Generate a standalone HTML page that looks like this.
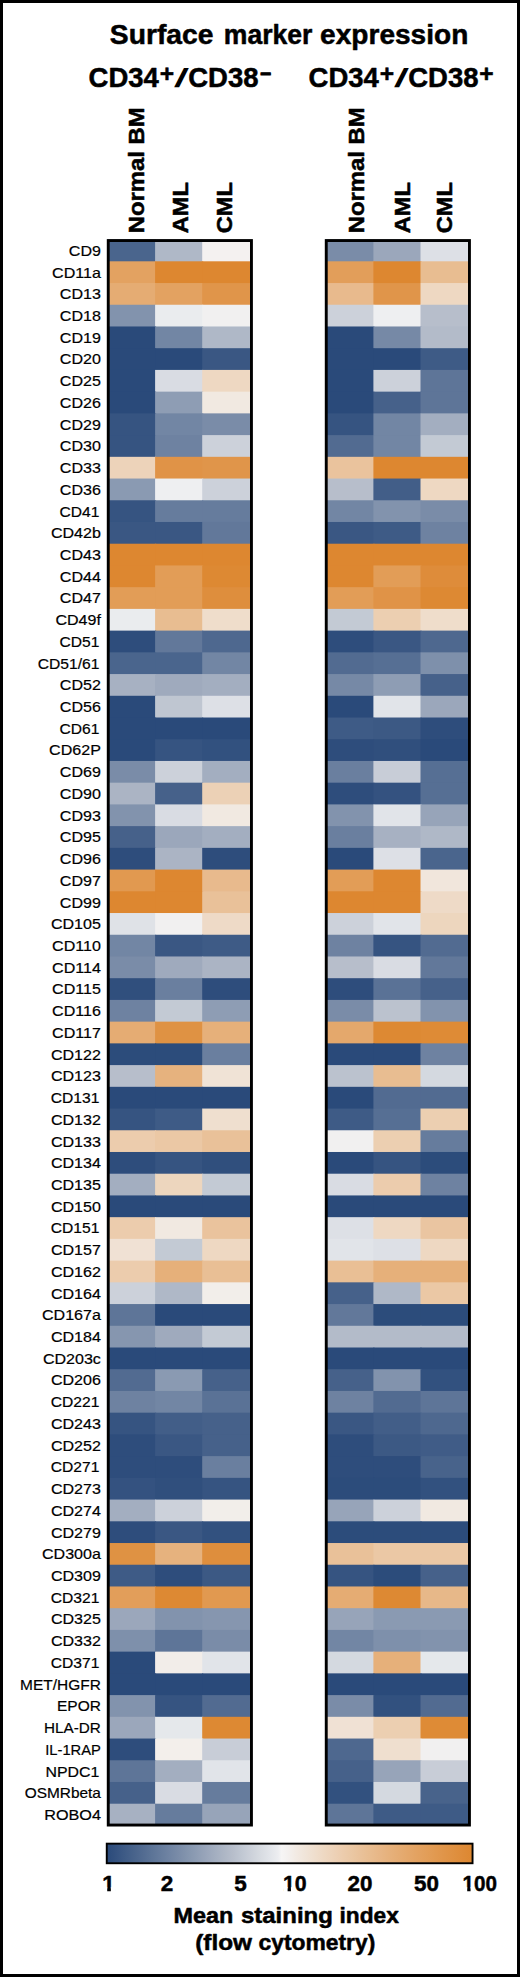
<!DOCTYPE html>
<html><head><meta charset="utf-8"><title>Surface marker expression</title>
<style>html,body{margin:0;padding:0;background:#fff}svg{display:block}text{stroke:#000;stroke-width:0.2px;font-family:"Liberation Sans",Arial,Helvetica,sans-serif;fill:#000}.b{font-weight:bold;stroke:#000;stroke-width:0.5px;stroke-linejoin:round}</style></head><body>
<svg width="520" height="1977" viewBox="0 0 520 1977">
<defs><linearGradient id="cb" x1="0" x2="1" y1="0" y2="0"><stop offset="0.0000" stop-color="#2a4a7a"/><stop offset="0.0246" stop-color="#345280"/><stop offset="0.0493" stop-color="#3e5b86"/><stop offset="0.0739" stop-color="#48638b"/><stop offset="0.0986" stop-color="#526b91"/><stop offset="0.1232" stop-color="#5c7497"/><stop offset="0.1478" stop-color="#667c9d"/><stop offset="0.1725" stop-color="#7084a3"/><stop offset="0.1971" stop-color="#7a8ca8"/><stop offset="0.2218" stop-color="#8495ae"/><stop offset="0.2464" stop-color="#8e9db4"/><stop offset="0.2710" stop-color="#99a5ba"/><stop offset="0.2957" stop-color="#a3aec0"/><stop offset="0.3203" stop-color="#adb6c5"/><stop offset="0.3449" stop-color="#b7becb"/><stop offset="0.3696" stop-color="#c1c8d3"/><stop offset="0.3942" stop-color="#ccd1da"/><stop offset="0.4189" stop-color="#d7dbe1"/><stop offset="0.4435" stop-color="#e1e4e9"/><stop offset="0.4681" stop-color="#ecedf0"/><stop offset="0.478" stop-color="#f6f5f5"/><stop offset="0.4932" stop-color="#f4f1f0"/><stop offset="0.5185" stop-color="#f2eae3"/><stop offset="0.5439" stop-color="#f0e4d8"/><stop offset="0.5692" stop-color="#efdecd"/><stop offset="0.5946" stop-color="#eed8c2"/><stop offset="0.6199" stop-color="#edd2b8"/><stop offset="0.6452" stop-color="#ecccad"/><stop offset="0.6706" stop-color="#eac7a3"/><stop offset="0.6959" stop-color="#e9c199"/><stop offset="0.7213" stop-color="#e8bc8f"/><stop offset="0.7466" stop-color="#e7b686"/><stop offset="0.7719" stop-color="#e6b17c"/><stop offset="0.7973" stop-color="#e5ac73"/><stop offset="0.8226" stop-color="#e4a76a"/><stop offset="0.8480" stop-color="#e3a261"/><stop offset="0.8733" stop-color="#e29e59"/><stop offset="0.8986" stop-color="#e19950"/><stop offset="0.9240" stop-color="#e09448"/><stop offset="0.9493" stop-color="#df9040"/><stop offset="0.9747" stop-color="#de8b38"/><stop offset="1.0000" stop-color="#dd8730"/></linearGradient></defs>
<rect x="0" y="0" width="520" height="1977" fill="#fff"/>
<rect x="1.5" y="1.5" width="517" height="1974" fill="none" stroke="#000" stroke-width="3"/>
<text class="b" x="109.8" y="43.8" font-size="27.7" textLength="103.7" lengthAdjust="spacingAndGlyphs">Surface</text>
<text class="b" x="223.8" y="43.8" font-size="27.7" textLength="88.5" lengthAdjust="spacingAndGlyphs">marker</text>
<text class="b" x="320.1" y="43.8" font-size="27.7" textLength="148.2" lengthAdjust="spacingAndGlyphs">expression</text>
<text class="b" x="88.6" y="86.5" font-size="27.5">CD34</text>
<text class="b" x="159.7" y="81.6" font-size="24.6">+</text>
<text class="b" font-size="27.5" style="stroke-width:1.6px;stroke-linejoin:miter" transform="translate(175.3,86.1) skewX(-16) scale(1.0,0.87)">/</text>
<text class="b" x="188.2" y="86.5" font-size="27.5">CD38</text>
<text class="b" x="260.1" y="79.7" font-size="19" style="stroke-width:1.0px">−</text>
<text class="b" x="308.6" y="86.5" font-size="27.5">CD34</text>
<text class="b" x="379.7" y="81.6" font-size="24.6">+</text>
<text class="b" font-size="27.5" style="stroke-width:1.6px;stroke-linejoin:miter" transform="translate(395.3,86.1) skewX(-16) scale(1.0,0.87)">/</text>
<text class="b" x="408.2" y="86.5" font-size="27.5">CD38</text>
<text class="b" x="479.2" y="82.4" font-size="24.6">+</text>
<text class="b" font-size="22.9" textLength="125.8" lengthAdjust="spacingAndGlyphs" transform="translate(143.6,233.3) rotate(-90)">Normal BM</text>
<text class="b" font-size="22.9" textLength="51.2" lengthAdjust="spacingAndGlyphs" transform="translate(187.5,233.3) rotate(-90)">AML</text>
<text class="b" font-size="22.9" textLength="51.2" lengthAdjust="spacingAndGlyphs" transform="translate(232.1,233.3) rotate(-90)">CML</text>
<text class="b" font-size="22.9" textLength="125.8" lengthAdjust="spacingAndGlyphs" transform="translate(363.6,233.3) rotate(-90)">Normal BM</text>
<text class="b" font-size="22.9" textLength="51.2" lengthAdjust="spacingAndGlyphs" transform="translate(410.3,233.3) rotate(-90)">AML</text>
<text class="b" font-size="22.9" textLength="51.2" lengthAdjust="spacingAndGlyphs" transform="translate(452.1,233.3) rotate(-90)">CML</text>
<rect x="107.90" y="239.58" width="48.20" height="22.72" fill="#4a658d"/>
<rect x="155.10" y="239.58" width="48.10" height="22.72" fill="#afb8c7"/>
<rect x="202.20" y="239.58" width="48.80" height="22.72" fill="#f4f1f0"/>
<rect x="107.90" y="261.30" width="48.20" height="22.72" fill="#e3a261"/>
<rect x="155.10" y="261.30" width="48.10" height="22.72" fill="#dd8730"/>
<rect x="202.20" y="261.30" width="48.80" height="22.72" fill="#dd8730"/>
<rect x="107.90" y="283.03" width="48.20" height="22.72" fill="#e5ac73"/>
<rect x="155.10" y="283.03" width="48.10" height="22.72" fill="#e3a261"/>
<rect x="202.20" y="283.03" width="48.80" height="22.72" fill="#e0954a"/>
<rect x="107.90" y="304.75" width="48.20" height="22.72" fill="#8293ad"/>
<rect x="155.10" y="304.75" width="48.10" height="22.72" fill="#eaecee"/>
<rect x="202.20" y="304.75" width="48.80" height="22.72" fill="#f1f0f0"/>
<rect x="107.90" y="326.48" width="48.20" height="22.72" fill="#2a4a7a"/>
<rect x="155.10" y="326.48" width="48.10" height="22.72" fill="#7286a4"/>
<rect x="202.20" y="326.48" width="48.80" height="22.72" fill="#afb8c7"/>
<rect x="107.90" y="348.20" width="48.20" height="22.72" fill="#2a4a7a"/>
<rect x="155.10" y="348.20" width="48.10" height="22.72" fill="#2a4a7a"/>
<rect x="202.20" y="348.20" width="48.80" height="22.72" fill="#3a5783"/>
<rect x="107.90" y="369.92" width="48.20" height="22.72" fill="#2a4a7a"/>
<rect x="155.10" y="369.92" width="48.10" height="22.72" fill="#d9dce3"/>
<rect x="202.20" y="369.92" width="48.80" height="22.72" fill="#eed8c2"/>
<rect x="107.90" y="391.65" width="48.20" height="22.72" fill="#2a4a7a"/>
<rect x="155.10" y="391.65" width="48.10" height="22.72" fill="#8e9db4"/>
<rect x="202.20" y="391.65" width="48.80" height="22.72" fill="#f1e9e1"/>
<rect x="107.90" y="413.37" width="48.20" height="22.72" fill="#365481"/>
<rect x="155.10" y="413.37" width="48.10" height="22.72" fill="#7286a4"/>
<rect x="202.20" y="413.37" width="48.80" height="22.72" fill="#7a8ca8"/>
<rect x="107.90" y="435.10" width="48.20" height="22.72" fill="#365481"/>
<rect x="155.10" y="435.10" width="48.10" height="22.72" fill="#6e82a1"/>
<rect x="202.20" y="435.10" width="48.80" height="22.72" fill="#ccd1da"/>
<rect x="107.90" y="456.82" width="48.20" height="22.72" fill="#edd3ba"/>
<rect x="155.10" y="456.82" width="48.10" height="22.72" fill="#e09347"/>
<rect x="202.20" y="456.82" width="48.80" height="22.72" fill="#e0954a"/>
<rect x="107.90" y="478.54" width="48.20" height="22.72" fill="#8a9ab2"/>
<rect x="155.10" y="478.54" width="48.10" height="22.72" fill="#eeeff1"/>
<rect x="202.20" y="478.54" width="48.80" height="22.72" fill="#ccd1da"/>
<rect x="107.90" y="500.27" width="48.20" height="22.72" fill="#365481"/>
<rect x="155.10" y="500.27" width="48.10" height="22.72" fill="#667c9d"/>
<rect x="202.20" y="500.27" width="48.80" height="22.72" fill="#667c9d"/>
<rect x="107.90" y="521.99" width="48.20" height="22.72" fill="#3a5783"/>
<rect x="155.10" y="521.99" width="48.10" height="22.72" fill="#3a5783"/>
<rect x="202.20" y="521.99" width="48.80" height="22.72" fill="#62789a"/>
<rect x="107.90" y="543.72" width="48.20" height="22.72" fill="#dd8730"/>
<rect x="155.10" y="543.72" width="48.10" height="22.72" fill="#dd8730"/>
<rect x="202.20" y="543.72" width="48.80" height="22.72" fill="#dd8730"/>
<rect x="107.90" y="565.44" width="48.20" height="22.72" fill="#dd8730"/>
<rect x="155.10" y="565.44" width="48.10" height="22.72" fill="#e29d57"/>
<rect x="202.20" y="565.44" width="48.80" height="22.72" fill="#dd8933"/>
<rect x="107.90" y="587.16" width="48.20" height="22.72" fill="#e29d57"/>
<rect x="155.10" y="587.16" width="48.10" height="22.72" fill="#e29d57"/>
<rect x="202.20" y="587.16" width="48.80" height="22.72" fill="#de8e3d"/>
<rect x="107.90" y="608.89" width="48.20" height="22.72" fill="#eaecee"/>
<rect x="155.10" y="608.89" width="48.10" height="22.72" fill="#e8bd91"/>
<rect x="202.20" y="608.89" width="48.80" height="22.72" fill="#efddcb"/>
<rect x="107.90" y="630.61" width="48.20" height="22.72" fill="#2e4d7c"/>
<rect x="155.10" y="630.61" width="48.10" height="22.72" fill="#62789a"/>
<rect x="202.20" y="630.61" width="48.80" height="22.72" fill="#4e688f"/>
<rect x="107.90" y="652.34" width="48.20" height="22.72" fill="#4a658d"/>
<rect x="155.10" y="652.34" width="48.10" height="22.72" fill="#4a658d"/>
<rect x="202.20" y="652.34" width="48.80" height="22.72" fill="#7286a4"/>
<rect x="107.90" y="674.06" width="48.20" height="22.72" fill="#a7b1c2"/>
<rect x="155.10" y="674.06" width="48.10" height="22.72" fill="#9faabd"/>
<rect x="202.20" y="674.06" width="48.80" height="22.72" fill="#a3aec0"/>
<rect x="107.90" y="695.78" width="48.20" height="22.72" fill="#2a4a7a"/>
<rect x="155.10" y="695.78" width="48.10" height="22.72" fill="#bfc6d1"/>
<rect x="202.20" y="695.78" width="48.80" height="22.72" fill="#dde0e6"/>
<rect x="107.90" y="717.51" width="48.20" height="22.72" fill="#2a4a7a"/>
<rect x="155.10" y="717.51" width="48.10" height="22.72" fill="#2a4a7a"/>
<rect x="202.20" y="717.51" width="48.80" height="22.72" fill="#2a4a7a"/>
<rect x="107.90" y="739.23" width="48.20" height="22.72" fill="#2a4a7a"/>
<rect x="155.10" y="739.23" width="48.10" height="22.72" fill="#365481"/>
<rect x="202.20" y="739.23" width="48.80" height="22.72" fill="#32517f"/>
<rect x="107.90" y="760.96" width="48.20" height="22.72" fill="#7a8ca8"/>
<rect x="155.10" y="760.96" width="48.10" height="22.72" fill="#ccd1da"/>
<rect x="202.20" y="760.96" width="48.80" height="22.72" fill="#a3aec0"/>
<rect x="107.90" y="782.68" width="48.20" height="22.72" fill="#abb4c4"/>
<rect x="155.10" y="782.68" width="48.10" height="22.72" fill="#46618a"/>
<rect x="202.20" y="782.68" width="48.80" height="22.72" fill="#ecd1b6"/>
<rect x="107.90" y="804.40" width="48.20" height="22.72" fill="#8293ad"/>
<rect x="155.10" y="804.40" width="48.10" height="22.72" fill="#d9dce3"/>
<rect x="202.20" y="804.40" width="48.80" height="22.72" fill="#f1e9e1"/>
<rect x="107.90" y="826.13" width="48.20" height="22.72" fill="#46618a"/>
<rect x="155.10" y="826.13" width="48.10" height="22.72" fill="#9ba7bb"/>
<rect x="202.20" y="826.13" width="48.80" height="22.72" fill="#a3aec0"/>
<rect x="107.90" y="847.85" width="48.20" height="22.72" fill="#2e4d7c"/>
<rect x="155.10" y="847.85" width="48.10" height="22.72" fill="#abb4c4"/>
<rect x="202.20" y="847.85" width="48.80" height="22.72" fill="#2e4d7c"/>
<rect x="107.90" y="869.58" width="48.20" height="22.72" fill="#e19950"/>
<rect x="155.10" y="869.58" width="48.10" height="22.72" fill="#dd8730"/>
<rect x="202.20" y="869.58" width="48.80" height="22.72" fill="#e8ba8d"/>
<rect x="107.90" y="891.30" width="48.20" height="22.72" fill="#dd8730"/>
<rect x="155.10" y="891.30" width="48.10" height="22.72" fill="#dd8730"/>
<rect x="202.20" y="891.30" width="48.80" height="22.72" fill="#e9c199"/>
<rect x="107.90" y="913.02" width="48.20" height="22.72" fill="#dfe2e7"/>
<rect x="155.10" y="913.02" width="48.10" height="22.72" fill="#f1f0f0"/>
<rect x="202.20" y="913.02" width="48.80" height="22.72" fill="#eedac7"/>
<rect x="107.90" y="934.75" width="48.20" height="22.72" fill="#7286a4"/>
<rect x="155.10" y="934.75" width="48.10" height="22.72" fill="#3a5783"/>
<rect x="202.20" y="934.75" width="48.80" height="22.72" fill="#3e5b86"/>
<rect x="107.90" y="956.47" width="48.20" height="22.72" fill="#7a8ca8"/>
<rect x="155.10" y="956.47" width="48.10" height="22.72" fill="#9faabd"/>
<rect x="202.20" y="956.47" width="48.80" height="22.72" fill="#abb4c4"/>
<rect x="107.90" y="978.20" width="48.20" height="22.72" fill="#304f7d"/>
<rect x="155.10" y="978.20" width="48.10" height="22.72" fill="#6a7f9f"/>
<rect x="202.20" y="978.20" width="48.80" height="22.72" fill="#2e4d7c"/>
<rect x="107.90" y="999.92" width="48.20" height="22.72" fill="#6e82a1"/>
<rect x="155.10" y="999.92" width="48.10" height="22.72" fill="#c3cad4"/>
<rect x="202.20" y="999.92" width="48.80" height="22.72" fill="#8e9db4"/>
<rect x="107.90" y="1021.64" width="48.20" height="22.72" fill="#e5ac73"/>
<rect x="155.10" y="1021.64" width="48.10" height="22.72" fill="#df9243"/>
<rect x="202.20" y="1021.64" width="48.80" height="22.72" fill="#e6b07a"/>
<rect x="107.90" y="1043.37" width="48.20" height="22.72" fill="#2c4c7b"/>
<rect x="155.10" y="1043.37" width="48.10" height="22.72" fill="#2c4c7b"/>
<rect x="202.20" y="1043.37" width="48.80" height="22.72" fill="#6a7f9f"/>
<rect x="107.90" y="1065.09" width="48.20" height="22.72" fill="#b7becb"/>
<rect x="155.10" y="1065.09" width="48.10" height="22.72" fill="#e6b27e"/>
<rect x="202.20" y="1065.09" width="48.80" height="22.72" fill="#f0e3d6"/>
<rect x="107.90" y="1086.82" width="48.20" height="22.72" fill="#2a4a7a"/>
<rect x="155.10" y="1086.82" width="48.10" height="22.72" fill="#2a4a7a"/>
<rect x="202.20" y="1086.82" width="48.80" height="22.72" fill="#2a4a7a"/>
<rect x="107.90" y="1108.54" width="48.20" height="22.72" fill="#365481"/>
<rect x="155.10" y="1108.54" width="48.10" height="22.72" fill="#3e5b86"/>
<rect x="202.20" y="1108.54" width="48.80" height="22.72" fill="#efdfcf"/>
<rect x="107.90" y="1130.26" width="48.20" height="22.72" fill="#ecccad"/>
<rect x="155.10" y="1130.26" width="48.10" height="22.72" fill="#ebc8a5"/>
<rect x="202.20" y="1130.26" width="48.80" height="22.72" fill="#e9c199"/>
<rect x="107.90" y="1151.99" width="48.20" height="22.72" fill="#2e4d7c"/>
<rect x="155.10" y="1151.99" width="48.10" height="22.72" fill="#365481"/>
<rect x="202.20" y="1151.99" width="48.80" height="22.72" fill="#304f7d"/>
<rect x="107.90" y="1173.71" width="48.20" height="22.72" fill="#a3aec0"/>
<rect x="155.10" y="1173.71" width="48.10" height="22.72" fill="#edd6be"/>
<rect x="202.20" y="1173.71" width="48.80" height="22.72" fill="#c3cad4"/>
<rect x="107.90" y="1195.44" width="48.20" height="22.72" fill="#2a4a7a"/>
<rect x="155.10" y="1195.44" width="48.10" height="22.72" fill="#2a4a7a"/>
<rect x="202.20" y="1195.44" width="48.80" height="22.72" fill="#2a4a7a"/>
<rect x="107.90" y="1217.16" width="48.20" height="22.72" fill="#ecccad"/>
<rect x="155.10" y="1217.16" width="48.10" height="22.72" fill="#f1e9e1"/>
<rect x="202.20" y="1217.16" width="48.80" height="22.72" fill="#eac39d"/>
<rect x="107.90" y="1238.88" width="48.20" height="22.72" fill="#f0e1d4"/>
<rect x="155.10" y="1238.88" width="48.10" height="22.72" fill="#c3cad4"/>
<rect x="202.20" y="1238.88" width="48.80" height="22.72" fill="#eed8c2"/>
<rect x="107.90" y="1260.61" width="48.20" height="22.72" fill="#ecccad"/>
<rect x="155.10" y="1260.61" width="48.10" height="22.72" fill="#e6b07a"/>
<rect x="202.20" y="1260.61" width="48.80" height="22.72" fill="#e9bf95"/>
<rect x="107.90" y="1282.33" width="48.20" height="22.72" fill="#ccd1da"/>
<rect x="155.10" y="1282.33" width="48.10" height="22.72" fill="#afb8c7"/>
<rect x="202.20" y="1282.33" width="48.80" height="22.72" fill="#f2eeea"/>
<rect x="107.90" y="1304.06" width="48.20" height="22.72" fill="#5e7598"/>
<rect x="155.10" y="1304.06" width="48.10" height="22.72" fill="#2a4a7a"/>
<rect x="202.20" y="1304.06" width="48.80" height="22.72" fill="#2a4a7a"/>
<rect x="107.90" y="1325.78" width="48.20" height="22.72" fill="#8696af"/>
<rect x="155.10" y="1325.78" width="48.10" height="22.72" fill="#9faabd"/>
<rect x="202.20" y="1325.78" width="48.80" height="22.72" fill="#c3cad4"/>
<rect x="107.90" y="1347.50" width="48.20" height="22.72" fill="#2a4a7a"/>
<rect x="155.10" y="1347.50" width="48.10" height="22.72" fill="#2a4a7a"/>
<rect x="202.20" y="1347.50" width="48.80" height="22.72" fill="#2a4a7a"/>
<rect x="107.90" y="1369.23" width="48.20" height="22.72" fill="#526b91"/>
<rect x="155.10" y="1369.23" width="48.10" height="22.72" fill="#8a9ab2"/>
<rect x="202.20" y="1369.23" width="48.80" height="22.72" fill="#46618a"/>
<rect x="107.90" y="1390.95" width="48.20" height="22.72" fill="#6e82a1"/>
<rect x="155.10" y="1390.95" width="48.10" height="22.72" fill="#7286a4"/>
<rect x="202.20" y="1390.95" width="48.80" height="22.72" fill="#5a7296"/>
<rect x="107.90" y="1412.68" width="48.20" height="22.72" fill="#365481"/>
<rect x="155.10" y="1412.68" width="48.10" height="22.72" fill="#425e88"/>
<rect x="202.20" y="1412.68" width="48.80" height="22.72" fill="#46618a"/>
<rect x="107.90" y="1434.40" width="48.20" height="22.72" fill="#2e4d7c"/>
<rect x="155.10" y="1434.40" width="48.10" height="22.72" fill="#3a5783"/>
<rect x="202.20" y="1434.40" width="48.80" height="22.72" fill="#46618a"/>
<rect x="107.90" y="1456.12" width="48.20" height="22.72" fill="#2e4d7c"/>
<rect x="155.10" y="1456.12" width="48.10" height="22.72" fill="#2e4d7c"/>
<rect x="202.20" y="1456.12" width="48.80" height="22.72" fill="#6a7f9f"/>
<rect x="107.90" y="1477.85" width="48.20" height="22.72" fill="#345280"/>
<rect x="155.10" y="1477.85" width="48.10" height="22.72" fill="#304f7d"/>
<rect x="202.20" y="1477.85" width="48.80" height="22.72" fill="#365481"/>
<rect x="107.90" y="1499.57" width="48.20" height="22.72" fill="#a3aec0"/>
<rect x="155.10" y="1499.57" width="48.10" height="22.72" fill="#ccd1da"/>
<rect x="202.20" y="1499.57" width="48.80" height="22.72" fill="#f2eeea"/>
<rect x="107.90" y="1521.30" width="48.20" height="22.72" fill="#2e4d7c"/>
<rect x="155.10" y="1521.30" width="48.10" height="22.72" fill="#3a5783"/>
<rect x="202.20" y="1521.30" width="48.80" height="22.72" fill="#32517f"/>
<rect x="107.90" y="1543.02" width="48.20" height="22.72" fill="#df9243"/>
<rect x="155.10" y="1543.02" width="48.10" height="22.72" fill="#e6b27e"/>
<rect x="202.20" y="1543.02" width="48.80" height="22.72" fill="#de8e3d"/>
<rect x="107.90" y="1564.74" width="48.20" height="22.72" fill="#3e5b86"/>
<rect x="155.10" y="1564.74" width="48.10" height="22.72" fill="#2e4d7c"/>
<rect x="202.20" y="1564.74" width="48.80" height="22.72" fill="#3c5984"/>
<rect x="107.90" y="1586.47" width="48.20" height="22.72" fill="#e29e5a"/>
<rect x="155.10" y="1586.47" width="48.10" height="22.72" fill="#dd8933"/>
<rect x="202.20" y="1586.47" width="48.80" height="22.72" fill="#e19950"/>
<rect x="107.90" y="1608.19" width="48.20" height="22.72" fill="#9ba7bb"/>
<rect x="155.10" y="1608.19" width="48.10" height="22.72" fill="#8293ad"/>
<rect x="202.20" y="1608.19" width="48.80" height="22.72" fill="#8696af"/>
<rect x="107.90" y="1629.92" width="48.20" height="22.72" fill="#7e90ab"/>
<rect x="155.10" y="1629.92" width="48.10" height="22.72" fill="#5e7598"/>
<rect x="202.20" y="1629.92" width="48.80" height="22.72" fill="#7a8ca8"/>
<rect x="107.90" y="1651.64" width="48.20" height="22.72" fill="#2a4a7a"/>
<rect x="155.10" y="1651.64" width="48.10" height="22.72" fill="#f2ede9"/>
<rect x="202.20" y="1651.64" width="48.80" height="22.72" fill="#e1e4e9"/>
<rect x="107.90" y="1673.36" width="48.20" height="22.72" fill="#2a4a7a"/>
<rect x="155.10" y="1673.36" width="48.10" height="22.72" fill="#2a4a7a"/>
<rect x="202.20" y="1673.36" width="48.80" height="22.72" fill="#2a4a7a"/>
<rect x="107.90" y="1695.09" width="48.20" height="22.72" fill="#8293ad"/>
<rect x="155.10" y="1695.09" width="48.10" height="22.72" fill="#365481"/>
<rect x="202.20" y="1695.09" width="48.80" height="22.72" fill="#526b91"/>
<rect x="107.90" y="1716.81" width="48.20" height="22.72" fill="#9ba7bb"/>
<rect x="155.10" y="1716.81" width="48.10" height="22.72" fill="#e5e8eb"/>
<rect x="202.20" y="1716.81" width="48.80" height="22.72" fill="#dd8933"/>
<rect x="107.90" y="1738.54" width="48.20" height="22.72" fill="#2e4d7c"/>
<rect x="155.10" y="1738.54" width="48.10" height="22.72" fill="#f3efeb"/>
<rect x="202.20" y="1738.54" width="48.80" height="22.72" fill="#c8cdd7"/>
<rect x="107.90" y="1760.26" width="48.20" height="22.72" fill="#5e7598"/>
<rect x="155.10" y="1760.26" width="48.10" height="22.72" fill="#a3aec0"/>
<rect x="202.20" y="1760.26" width="48.80" height="22.72" fill="#e1e4e9"/>
<rect x="107.90" y="1781.98" width="48.20" height="22.72" fill="#46618a"/>
<rect x="155.10" y="1781.98" width="48.10" height="22.72" fill="#d9dce3"/>
<rect x="202.20" y="1781.98" width="48.80" height="22.72" fill="#667c9d"/>
<rect x="107.90" y="1803.71" width="48.20" height="21.72" fill="#a7b1c2"/>
<rect x="155.10" y="1803.71" width="48.10" height="21.72" fill="#667c9d"/>
<rect x="202.20" y="1803.71" width="48.80" height="21.72" fill="#97a4b9"/>
<rect x="108.25" y="240.55" width="143.20" height="1584.50" fill="none" stroke="#000" stroke-width="2.9"/>
<rect x="326.20" y="239.58" width="48.20" height="22.72" fill="#7a8ca8"/>
<rect x="373.40" y="239.58" width="48.10" height="22.72" fill="#9ba7bb"/>
<rect x="420.50" y="239.58" width="48.50" height="22.72" fill="#dde0e6"/>
<rect x="326.20" y="261.30" width="48.20" height="22.72" fill="#e29e5a"/>
<rect x="373.40" y="261.30" width="48.10" height="22.72" fill="#dd8730"/>
<rect x="420.50" y="261.30" width="48.50" height="22.72" fill="#e8bd91"/>
<rect x="326.20" y="283.03" width="48.20" height="22.72" fill="#e8ba8d"/>
<rect x="373.40" y="283.03" width="48.10" height="22.72" fill="#e0954a"/>
<rect x="420.50" y="283.03" width="48.50" height="22.72" fill="#eed8c2"/>
<rect x="326.20" y="304.75" width="48.20" height="22.72" fill="#ccd1da"/>
<rect x="373.40" y="304.75" width="48.10" height="22.72" fill="#eeeff1"/>
<rect x="420.50" y="304.75" width="48.50" height="22.72" fill="#b7becb"/>
<rect x="326.20" y="326.48" width="48.20" height="22.72" fill="#2a4a7a"/>
<rect x="373.40" y="326.48" width="48.10" height="22.72" fill="#7689a6"/>
<rect x="420.50" y="326.48" width="48.50" height="22.72" fill="#b3bbc9"/>
<rect x="326.20" y="348.20" width="48.20" height="22.72" fill="#2a4a7a"/>
<rect x="373.40" y="348.20" width="48.10" height="22.72" fill="#2a4a7a"/>
<rect x="420.50" y="348.20" width="48.50" height="22.72" fill="#3e5b86"/>
<rect x="326.20" y="369.92" width="48.20" height="22.72" fill="#2a4a7a"/>
<rect x="373.40" y="369.92" width="48.10" height="22.72" fill="#ccd1da"/>
<rect x="420.50" y="369.92" width="48.50" height="22.72" fill="#5e7598"/>
<rect x="326.20" y="391.65" width="48.20" height="22.72" fill="#2a4a7a"/>
<rect x="373.40" y="391.65" width="48.10" height="22.72" fill="#46618a"/>
<rect x="420.50" y="391.65" width="48.50" height="22.72" fill="#5e7598"/>
<rect x="326.20" y="413.37" width="48.20" height="22.72" fill="#365481"/>
<rect x="373.40" y="413.37" width="48.10" height="22.72" fill="#7286a4"/>
<rect x="420.50" y="413.37" width="48.50" height="22.72" fill="#a3aec0"/>
<rect x="326.20" y="435.10" width="48.20" height="22.72" fill="#526b91"/>
<rect x="373.40" y="435.10" width="48.10" height="22.72" fill="#7286a4"/>
<rect x="420.50" y="435.10" width="48.50" height="22.72" fill="#c3cad4"/>
<rect x="326.20" y="456.82" width="48.20" height="22.72" fill="#eac39d"/>
<rect x="373.40" y="456.82" width="48.10" height="22.72" fill="#dd8730"/>
<rect x="420.50" y="456.82" width="48.50" height="22.72" fill="#dd8730"/>
<rect x="326.20" y="478.54" width="48.20" height="22.72" fill="#b7becb"/>
<rect x="373.40" y="478.54" width="48.10" height="22.72" fill="#425e88"/>
<rect x="420.50" y="478.54" width="48.50" height="22.72" fill="#eed8c2"/>
<rect x="326.20" y="500.27" width="48.20" height="22.72" fill="#7286a4"/>
<rect x="373.40" y="500.27" width="48.10" height="22.72" fill="#8293ad"/>
<rect x="420.50" y="500.27" width="48.50" height="22.72" fill="#7a8ca8"/>
<rect x="326.20" y="521.99" width="48.20" height="22.72" fill="#3a5783"/>
<rect x="373.40" y="521.99" width="48.10" height="22.72" fill="#3e5b86"/>
<rect x="420.50" y="521.99" width="48.50" height="22.72" fill="#6e82a1"/>
<rect x="326.20" y="543.72" width="48.20" height="22.72" fill="#dd8730"/>
<rect x="373.40" y="543.72" width="48.10" height="22.72" fill="#dd8730"/>
<rect x="420.50" y="543.72" width="48.50" height="22.72" fill="#dd8730"/>
<rect x="326.20" y="565.44" width="48.20" height="22.72" fill="#dd8730"/>
<rect x="373.40" y="565.44" width="48.10" height="22.72" fill="#e29d57"/>
<rect x="420.50" y="565.44" width="48.50" height="22.72" fill="#de8c3a"/>
<rect x="326.20" y="587.16" width="48.20" height="22.72" fill="#e29d57"/>
<rect x="373.40" y="587.16" width="48.10" height="22.72" fill="#e09347"/>
<rect x="420.50" y="587.16" width="48.50" height="22.72" fill="#dd8933"/>
<rect x="326.20" y="608.89" width="48.20" height="22.72" fill="#c3cad4"/>
<rect x="373.40" y="608.89" width="48.10" height="22.72" fill="#eccfb1"/>
<rect x="420.50" y="608.89" width="48.50" height="22.72" fill="#efddcb"/>
<rect x="326.20" y="630.61" width="48.20" height="22.72" fill="#2e4d7c"/>
<rect x="373.40" y="630.61" width="48.10" height="22.72" fill="#3a5783"/>
<rect x="420.50" y="630.61" width="48.50" height="22.72" fill="#4e688f"/>
<rect x="326.20" y="652.34" width="48.20" height="22.72" fill="#526b91"/>
<rect x="373.40" y="652.34" width="48.10" height="22.72" fill="#566f94"/>
<rect x="420.50" y="652.34" width="48.50" height="22.72" fill="#7e90ab"/>
<rect x="326.20" y="674.06" width="48.20" height="22.72" fill="#7689a6"/>
<rect x="373.40" y="674.06" width="48.10" height="22.72" fill="#8e9db4"/>
<rect x="420.50" y="674.06" width="48.50" height="22.72" fill="#46618a"/>
<rect x="326.20" y="695.78" width="48.20" height="22.72" fill="#2a4a7a"/>
<rect x="373.40" y="695.78" width="48.10" height="22.72" fill="#e1e4e9"/>
<rect x="420.50" y="695.78" width="48.50" height="22.72" fill="#9ba7bb"/>
<rect x="326.20" y="717.51" width="48.20" height="22.72" fill="#3e5b86"/>
<rect x="373.40" y="717.51" width="48.10" height="22.72" fill="#3c5984"/>
<rect x="420.50" y="717.51" width="48.50" height="22.72" fill="#2e4d7c"/>
<rect x="326.20" y="739.23" width="48.20" height="22.72" fill="#2e4d7c"/>
<rect x="373.40" y="739.23" width="48.10" height="22.72" fill="#304f7d"/>
<rect x="420.50" y="739.23" width="48.50" height="22.72" fill="#2a4a7a"/>
<rect x="326.20" y="760.96" width="48.20" height="22.72" fill="#6a7f9f"/>
<rect x="373.40" y="760.96" width="48.10" height="22.72" fill="#c8cdd7"/>
<rect x="420.50" y="760.96" width="48.50" height="22.72" fill="#566f94"/>
<rect x="326.20" y="782.68" width="48.20" height="22.72" fill="#2e4d7c"/>
<rect x="373.40" y="782.68" width="48.10" height="22.72" fill="#345280"/>
<rect x="420.50" y="782.68" width="48.50" height="22.72" fill="#566f94"/>
<rect x="326.20" y="804.40" width="48.20" height="22.72" fill="#8293ad"/>
<rect x="373.40" y="804.40" width="48.10" height="22.72" fill="#e1e4e9"/>
<rect x="420.50" y="804.40" width="48.50" height="22.72" fill="#97a4b9"/>
<rect x="326.20" y="826.13" width="48.20" height="22.72" fill="#6a7f9f"/>
<rect x="373.40" y="826.13" width="48.10" height="22.72" fill="#a7b1c2"/>
<rect x="420.50" y="826.13" width="48.50" height="22.72" fill="#afb8c7"/>
<rect x="326.20" y="847.85" width="48.20" height="22.72" fill="#2a4a7a"/>
<rect x="373.40" y="847.85" width="48.10" height="22.72" fill="#dde0e6"/>
<rect x="420.50" y="847.85" width="48.50" height="22.72" fill="#4a658d"/>
<rect x="326.20" y="869.58" width="48.20" height="22.72" fill="#e29d57"/>
<rect x="373.40" y="869.58" width="48.10" height="22.72" fill="#dd8730"/>
<rect x="420.50" y="869.58" width="48.50" height="22.72" fill="#f1e6dc"/>
<rect x="326.20" y="891.30" width="48.20" height="22.72" fill="#dd8730"/>
<rect x="373.40" y="891.30" width="48.10" height="22.72" fill="#dd8730"/>
<rect x="420.50" y="891.30" width="48.50" height="22.72" fill="#eedac7"/>
<rect x="326.20" y="913.02" width="48.20" height="22.72" fill="#ccd1da"/>
<rect x="373.40" y="913.02" width="48.10" height="22.72" fill="#e1e4e9"/>
<rect x="420.50" y="913.02" width="48.50" height="22.72" fill="#edd6be"/>
<rect x="326.20" y="934.75" width="48.20" height="22.72" fill="#6e82a1"/>
<rect x="373.40" y="934.75" width="48.10" height="22.72" fill="#365481"/>
<rect x="420.50" y="934.75" width="48.50" height="22.72" fill="#526b91"/>
<rect x="326.20" y="956.47" width="48.20" height="22.72" fill="#b7becb"/>
<rect x="373.40" y="956.47" width="48.10" height="22.72" fill="#d9dce3"/>
<rect x="420.50" y="956.47" width="48.50" height="22.72" fill="#62789a"/>
<rect x="326.20" y="978.20" width="48.20" height="22.72" fill="#2e4d7c"/>
<rect x="373.40" y="978.20" width="48.10" height="22.72" fill="#5a7296"/>
<rect x="420.50" y="978.20" width="48.50" height="22.72" fill="#46618a"/>
<rect x="326.20" y="999.92" width="48.20" height="22.72" fill="#7a8ca8"/>
<rect x="373.40" y="999.92" width="48.10" height="22.72" fill="#bbc2ce"/>
<rect x="420.50" y="999.92" width="48.50" height="22.72" fill="#8293ad"/>
<rect x="326.20" y="1021.64" width="48.20" height="22.72" fill="#e4a86c"/>
<rect x="373.40" y="1021.64" width="48.10" height="22.72" fill="#dd8933"/>
<rect x="420.50" y="1021.64" width="48.50" height="22.72" fill="#de8b36"/>
<rect x="326.20" y="1043.37" width="48.20" height="22.72" fill="#2a4a7a"/>
<rect x="373.40" y="1043.37" width="48.10" height="22.72" fill="#2a4a7a"/>
<rect x="420.50" y="1043.37" width="48.50" height="22.72" fill="#6e82a1"/>
<rect x="326.20" y="1065.09" width="48.20" height="22.72" fill="#bbc2ce"/>
<rect x="373.40" y="1065.09" width="48.10" height="22.72" fill="#e8bd91"/>
<rect x="420.50" y="1065.09" width="48.50" height="22.72" fill="#d4d9e0"/>
<rect x="326.20" y="1086.82" width="48.20" height="22.72" fill="#2a4a7a"/>
<rect x="373.40" y="1086.82" width="48.10" height="22.72" fill="#526b91"/>
<rect x="420.50" y="1086.82" width="48.50" height="22.72" fill="#526b91"/>
<rect x="326.20" y="1108.54" width="48.20" height="22.72" fill="#3e5b86"/>
<rect x="373.40" y="1108.54" width="48.10" height="22.72" fill="#566f94"/>
<rect x="420.50" y="1108.54" width="48.50" height="22.72" fill="#eccfb1"/>
<rect x="326.20" y="1130.26" width="48.20" height="22.72" fill="#f1f0f0"/>
<rect x="373.40" y="1130.26" width="48.10" height="22.72" fill="#eccfb1"/>
<rect x="420.50" y="1130.26" width="48.50" height="22.72" fill="#667c9d"/>
<rect x="326.20" y="1151.99" width="48.20" height="22.72" fill="#2a4a7a"/>
<rect x="373.40" y="1151.99" width="48.10" height="22.72" fill="#365481"/>
<rect x="420.50" y="1151.99" width="48.50" height="22.72" fill="#2c4c7b"/>
<rect x="326.20" y="1173.71" width="48.20" height="22.72" fill="#d9dce3"/>
<rect x="373.40" y="1173.71" width="48.10" height="22.72" fill="#ecccad"/>
<rect x="420.50" y="1173.71" width="48.50" height="22.72" fill="#6e82a1"/>
<rect x="326.20" y="1195.44" width="48.20" height="22.72" fill="#2a4a7a"/>
<rect x="373.40" y="1195.44" width="48.10" height="22.72" fill="#2a4a7a"/>
<rect x="420.50" y="1195.44" width="48.50" height="22.72" fill="#2a4a7a"/>
<rect x="326.20" y="1217.16" width="48.20" height="22.72" fill="#dde0e6"/>
<rect x="373.40" y="1217.16" width="48.10" height="22.72" fill="#eed8c2"/>
<rect x="420.50" y="1217.16" width="48.50" height="22.72" fill="#eac5a1"/>
<rect x="326.20" y="1238.88" width="48.20" height="22.72" fill="#e1e4e9"/>
<rect x="373.40" y="1238.88" width="48.10" height="22.72" fill="#dde0e6"/>
<rect x="420.50" y="1238.88" width="48.50" height="22.72" fill="#eed8c2"/>
<rect x="326.20" y="1260.61" width="48.20" height="22.72" fill="#e9bf95"/>
<rect x="373.40" y="1260.61" width="48.10" height="22.72" fill="#e6b07a"/>
<rect x="420.50" y="1260.61" width="48.50" height="22.72" fill="#e6b07a"/>
<rect x="326.20" y="1282.33" width="48.20" height="22.72" fill="#46618a"/>
<rect x="373.40" y="1282.33" width="48.10" height="22.72" fill="#afb8c7"/>
<rect x="420.50" y="1282.33" width="48.50" height="22.72" fill="#ebc8a5"/>
<rect x="326.20" y="1304.06" width="48.20" height="22.72" fill="#62789a"/>
<rect x="373.40" y="1304.06" width="48.10" height="22.72" fill="#2c4c7b"/>
<rect x="420.50" y="1304.06" width="48.50" height="22.72" fill="#2c4c7b"/>
<rect x="326.20" y="1325.78" width="48.20" height="22.72" fill="#b3bbc9"/>
<rect x="373.40" y="1325.78" width="48.10" height="22.72" fill="#b3bbc9"/>
<rect x="420.50" y="1325.78" width="48.50" height="22.72" fill="#b3bbc9"/>
<rect x="326.20" y="1347.50" width="48.20" height="22.72" fill="#2a4a7a"/>
<rect x="373.40" y="1347.50" width="48.10" height="22.72" fill="#2a4a7a"/>
<rect x="420.50" y="1347.50" width="48.50" height="22.72" fill="#2a4a7a"/>
<rect x="326.20" y="1369.23" width="48.20" height="22.72" fill="#46618a"/>
<rect x="373.40" y="1369.23" width="48.10" height="22.72" fill="#8293ad"/>
<rect x="420.50" y="1369.23" width="48.50" height="22.72" fill="#32517f"/>
<rect x="326.20" y="1390.95" width="48.20" height="22.72" fill="#6e82a1"/>
<rect x="373.40" y="1390.95" width="48.10" height="22.72" fill="#526b91"/>
<rect x="420.50" y="1390.95" width="48.50" height="22.72" fill="#5e7598"/>
<rect x="326.20" y="1412.68" width="48.20" height="22.72" fill="#3a5783"/>
<rect x="373.40" y="1412.68" width="48.10" height="22.72" fill="#425e88"/>
<rect x="420.50" y="1412.68" width="48.50" height="22.72" fill="#4e688f"/>
<rect x="326.20" y="1434.40" width="48.20" height="22.72" fill="#2e4d7c"/>
<rect x="373.40" y="1434.40" width="48.10" height="22.72" fill="#3c5984"/>
<rect x="420.50" y="1434.40" width="48.50" height="22.72" fill="#405c87"/>
<rect x="326.20" y="1456.12" width="48.20" height="22.72" fill="#2e4d7c"/>
<rect x="373.40" y="1456.12" width="48.10" height="22.72" fill="#2e4d7c"/>
<rect x="420.50" y="1456.12" width="48.50" height="22.72" fill="#48638b"/>
<rect x="326.20" y="1477.85" width="48.20" height="22.72" fill="#2c4c7b"/>
<rect x="373.40" y="1477.85" width="48.10" height="22.72" fill="#2c4c7b"/>
<rect x="420.50" y="1477.85" width="48.50" height="22.72" fill="#32517f"/>
<rect x="326.20" y="1499.57" width="48.20" height="22.72" fill="#97a4b9"/>
<rect x="373.40" y="1499.57" width="48.10" height="22.72" fill="#ccd1da"/>
<rect x="420.50" y="1499.57" width="48.50" height="22.72" fill="#f1e9e1"/>
<rect x="326.20" y="1521.30" width="48.20" height="22.72" fill="#2c4c7b"/>
<rect x="373.40" y="1521.30" width="48.10" height="22.72" fill="#2c4c7b"/>
<rect x="420.50" y="1521.30" width="48.50" height="22.72" fill="#2c4c7b"/>
<rect x="326.20" y="1543.02" width="48.20" height="22.72" fill="#e9c199"/>
<rect x="373.40" y="1543.02" width="48.10" height="22.72" fill="#ebc8a5"/>
<rect x="420.50" y="1543.02" width="48.50" height="22.72" fill="#ebc8a5"/>
<rect x="326.20" y="1564.74" width="48.20" height="22.72" fill="#365481"/>
<rect x="373.40" y="1564.74" width="48.10" height="22.72" fill="#2c4c7b"/>
<rect x="420.50" y="1564.74" width="48.50" height="22.72" fill="#46618a"/>
<rect x="326.20" y="1586.47" width="48.20" height="22.72" fill="#e5ac73"/>
<rect x="373.40" y="1586.47" width="48.10" height="22.72" fill="#dd8933"/>
<rect x="420.50" y="1586.47" width="48.50" height="22.72" fill="#e7b889"/>
<rect x="326.20" y="1608.19" width="48.20" height="22.72" fill="#97a4b9"/>
<rect x="373.40" y="1608.19" width="48.10" height="22.72" fill="#8a9ab2"/>
<rect x="420.50" y="1608.19" width="48.50" height="22.72" fill="#8a9ab2"/>
<rect x="326.20" y="1629.92" width="48.20" height="22.72" fill="#7286a4"/>
<rect x="373.40" y="1629.92" width="48.10" height="22.72" fill="#7e90ab"/>
<rect x="420.50" y="1629.92" width="48.50" height="22.72" fill="#8293ad"/>
<rect x="326.20" y="1651.64" width="48.20" height="22.72" fill="#d4d9e0"/>
<rect x="373.40" y="1651.64" width="48.10" height="22.72" fill="#e6b07a"/>
<rect x="420.50" y="1651.64" width="48.50" height="22.72" fill="#e5e8eb"/>
<rect x="326.20" y="1673.36" width="48.20" height="22.72" fill="#2a4a7a"/>
<rect x="373.40" y="1673.36" width="48.10" height="22.72" fill="#2a4a7a"/>
<rect x="420.50" y="1673.36" width="48.50" height="22.72" fill="#2a4a7a"/>
<rect x="326.20" y="1695.09" width="48.20" height="22.72" fill="#7a8ca8"/>
<rect x="373.40" y="1695.09" width="48.10" height="22.72" fill="#32517f"/>
<rect x="420.50" y="1695.09" width="48.50" height="22.72" fill="#526b91"/>
<rect x="326.20" y="1716.81" width="48.20" height="22.72" fill="#f0e1d4"/>
<rect x="373.40" y="1716.81" width="48.10" height="22.72" fill="#eccfb1"/>
<rect x="420.50" y="1716.81" width="48.50" height="22.72" fill="#de8b36"/>
<rect x="326.20" y="1738.54" width="48.20" height="22.72" fill="#4e688f"/>
<rect x="373.40" y="1738.54" width="48.10" height="22.72" fill="#efdfcf"/>
<rect x="420.50" y="1738.54" width="48.50" height="22.72" fill="#f1f0f0"/>
<rect x="326.20" y="1760.26" width="48.20" height="22.72" fill="#46618a"/>
<rect x="373.40" y="1760.26" width="48.10" height="22.72" fill="#97a4b9"/>
<rect x="420.50" y="1760.26" width="48.50" height="22.72" fill="#c8cdd7"/>
<rect x="326.20" y="1781.98" width="48.20" height="22.72" fill="#32517f"/>
<rect x="373.40" y="1781.98" width="48.10" height="22.72" fill="#d4d9e0"/>
<rect x="420.50" y="1781.98" width="48.50" height="22.72" fill="#48638b"/>
<rect x="326.20" y="1803.71" width="48.20" height="21.72" fill="#5e7598"/>
<rect x="373.40" y="1803.71" width="48.10" height="21.72" fill="#3e5b86"/>
<rect x="420.50" y="1803.71" width="48.50" height="21.72" fill="#3e5b86"/>
<rect x="326.25" y="240.55" width="143.20" height="1584.50" fill="none" stroke="#000" stroke-width="2.9"/>
<text x="100.9" y="255.84" font-size="15.0" text-anchor="end" textLength="32.1" lengthAdjust="spacingAndGlyphs">CD9</text>
<text x="100.9" y="277.57" font-size="15.0" text-anchor="end" textLength="48.8" lengthAdjust="spacingAndGlyphs">CD11a</text>
<text x="100.9" y="299.29" font-size="15.0" text-anchor="end" textLength="41.1" lengthAdjust="spacingAndGlyphs">CD13</text>
<text x="100.9" y="321.01" font-size="15.0" text-anchor="end" textLength="41.1" lengthAdjust="spacingAndGlyphs">CD18</text>
<text x="100.9" y="342.74" font-size="15.0" text-anchor="end" textLength="41.1" lengthAdjust="spacingAndGlyphs">CD19</text>
<text x="100.9" y="364.46" font-size="15.0" text-anchor="end" textLength="41.1" lengthAdjust="spacingAndGlyphs">CD20</text>
<text x="100.9" y="386.19" font-size="15.0" text-anchor="end" textLength="41.1" lengthAdjust="spacingAndGlyphs">CD25</text>
<text x="100.9" y="407.91" font-size="15.0" text-anchor="end" textLength="41.1" lengthAdjust="spacingAndGlyphs">CD26</text>
<text x="100.9" y="429.63" font-size="15.0" text-anchor="end" textLength="41.1" lengthAdjust="spacingAndGlyphs">CD29</text>
<text x="100.9" y="451.36" font-size="15.0" text-anchor="end" textLength="41.1" lengthAdjust="spacingAndGlyphs">CD30</text>
<text x="100.9" y="473.08" font-size="15.0" text-anchor="end" textLength="41.1" lengthAdjust="spacingAndGlyphs">CD33</text>
<text x="100.9" y="494.81" font-size="15.0" text-anchor="end" textLength="41.1" lengthAdjust="spacingAndGlyphs">CD36</text>
<text x="99.4" y="516.53" font-size="15.0" text-anchor="end" textLength="39.9" lengthAdjust="spacingAndGlyphs">CD41</text>
<text x="100.9" y="538.25" font-size="15.0" text-anchor="end" textLength="50.0" lengthAdjust="spacingAndGlyphs">CD42b</text>
<text x="100.9" y="559.98" font-size="15.0" text-anchor="end" textLength="41.1" lengthAdjust="spacingAndGlyphs">CD43</text>
<text x="100.9" y="581.70" font-size="15.0" text-anchor="end" textLength="41.1" lengthAdjust="spacingAndGlyphs">CD44</text>
<text x="100.9" y="603.43" font-size="15.0" text-anchor="end" textLength="41.1" lengthAdjust="spacingAndGlyphs">CD47</text>
<text x="100.9" y="625.15" font-size="15.0" text-anchor="end" textLength="45.5" lengthAdjust="spacingAndGlyphs">CD49f</text>
<text x="99.4" y="646.87" font-size="15.0" text-anchor="end" textLength="39.9" lengthAdjust="spacingAndGlyphs">CD51</text>
<text x="99.4" y="668.60" font-size="15.0" text-anchor="end" textLength="61.7" lengthAdjust="spacingAndGlyphs">CD51/61</text>
<text x="100.9" y="690.32" font-size="15.0" text-anchor="end" textLength="41.1" lengthAdjust="spacingAndGlyphs">CD52</text>
<text x="100.9" y="712.05" font-size="15.0" text-anchor="end" textLength="41.1" lengthAdjust="spacingAndGlyphs">CD56</text>
<text x="99.4" y="733.77" font-size="15.0" text-anchor="end" textLength="39.9" lengthAdjust="spacingAndGlyphs">CD61</text>
<text x="100.9" y="755.49" font-size="15.0" text-anchor="end" textLength="51.8" lengthAdjust="spacingAndGlyphs">CD62P</text>
<text x="100.9" y="777.22" font-size="15.0" text-anchor="end" textLength="41.1" lengthAdjust="spacingAndGlyphs">CD69</text>
<text x="100.9" y="798.94" font-size="15.0" text-anchor="end" textLength="41.1" lengthAdjust="spacingAndGlyphs">CD90</text>
<text x="100.9" y="820.67" font-size="15.0" text-anchor="end" textLength="41.1" lengthAdjust="spacingAndGlyphs">CD93</text>
<text x="100.9" y="842.39" font-size="15.0" text-anchor="end" textLength="41.1" lengthAdjust="spacingAndGlyphs">CD95</text>
<text x="100.9" y="864.11" font-size="15.0" text-anchor="end" textLength="41.1" lengthAdjust="spacingAndGlyphs">CD96</text>
<text x="100.9" y="885.84" font-size="15.0" text-anchor="end" textLength="41.1" lengthAdjust="spacingAndGlyphs">CD97</text>
<text x="100.9" y="907.56" font-size="15.0" text-anchor="end" textLength="41.1" lengthAdjust="spacingAndGlyphs">CD99</text>
<text x="100.9" y="929.29" font-size="15.0" text-anchor="end" textLength="50.0" lengthAdjust="spacingAndGlyphs">CD105</text>
<text x="100.9" y="951.01" font-size="15.0" text-anchor="end" textLength="48.8" lengthAdjust="spacingAndGlyphs">CD110</text>
<text x="100.9" y="972.73" font-size="15.0" text-anchor="end" textLength="48.8" lengthAdjust="spacingAndGlyphs">CD114</text>
<text x="100.9" y="994.46" font-size="15.0" text-anchor="end" textLength="48.8" lengthAdjust="spacingAndGlyphs">CD115</text>
<text x="100.9" y="1016.18" font-size="15.0" text-anchor="end" textLength="48.8" lengthAdjust="spacingAndGlyphs">CD116</text>
<text x="100.9" y="1037.91" font-size="15.0" text-anchor="end" textLength="48.8" lengthAdjust="spacingAndGlyphs">CD117</text>
<text x="100.9" y="1059.63" font-size="15.0" text-anchor="end" textLength="50.0" lengthAdjust="spacingAndGlyphs">CD122</text>
<text x="100.9" y="1081.35" font-size="15.0" text-anchor="end" textLength="50.0" lengthAdjust="spacingAndGlyphs">CD123</text>
<text x="99.4" y="1103.08" font-size="15.0" text-anchor="end" textLength="48.6" lengthAdjust="spacingAndGlyphs">CD131</text>
<text x="100.9" y="1124.80" font-size="15.0" text-anchor="end" textLength="50.0" lengthAdjust="spacingAndGlyphs">CD132</text>
<text x="100.9" y="1146.53" font-size="15.0" text-anchor="end" textLength="50.0" lengthAdjust="spacingAndGlyphs">CD133</text>
<text x="100.9" y="1168.25" font-size="15.0" text-anchor="end" textLength="50.0" lengthAdjust="spacingAndGlyphs">CD134</text>
<text x="100.9" y="1189.97" font-size="15.0" text-anchor="end" textLength="50.0" lengthAdjust="spacingAndGlyphs">CD135</text>
<text x="100.9" y="1211.70" font-size="15.0" text-anchor="end" textLength="50.0" lengthAdjust="spacingAndGlyphs">CD150</text>
<text x="99.4" y="1233.42" font-size="15.0" text-anchor="end" textLength="48.6" lengthAdjust="spacingAndGlyphs">CD151</text>
<text x="100.9" y="1255.15" font-size="15.0" text-anchor="end" textLength="50.0" lengthAdjust="spacingAndGlyphs">CD157</text>
<text x="100.9" y="1276.87" font-size="15.0" text-anchor="end" textLength="50.0" lengthAdjust="spacingAndGlyphs">CD162</text>
<text x="100.9" y="1298.59" font-size="15.0" text-anchor="end" textLength="50.0" lengthAdjust="spacingAndGlyphs">CD164</text>
<text x="100.9" y="1320.32" font-size="15.0" text-anchor="end" textLength="58.9" lengthAdjust="spacingAndGlyphs">CD167a</text>
<text x="100.9" y="1342.04" font-size="15.0" text-anchor="end" textLength="50.0" lengthAdjust="spacingAndGlyphs">CD184</text>
<text x="100.9" y="1363.77" font-size="15.0" text-anchor="end" textLength="58.0" lengthAdjust="spacingAndGlyphs">CD203c</text>
<text x="100.9" y="1385.49" font-size="15.0" text-anchor="end" textLength="50.0" lengthAdjust="spacingAndGlyphs">CD206</text>
<text x="99.4" y="1407.21" font-size="15.0" text-anchor="end" textLength="48.6" lengthAdjust="spacingAndGlyphs">CD221</text>
<text x="100.9" y="1428.94" font-size="15.0" text-anchor="end" textLength="50.0" lengthAdjust="spacingAndGlyphs">CD243</text>
<text x="100.9" y="1450.66" font-size="15.0" text-anchor="end" textLength="50.0" lengthAdjust="spacingAndGlyphs">CD252</text>
<text x="99.4" y="1472.39" font-size="15.0" text-anchor="end" textLength="48.6" lengthAdjust="spacingAndGlyphs">CD271</text>
<text x="100.9" y="1494.11" font-size="15.0" text-anchor="end" textLength="50.0" lengthAdjust="spacingAndGlyphs">CD273</text>
<text x="100.9" y="1515.83" font-size="15.0" text-anchor="end" textLength="50.0" lengthAdjust="spacingAndGlyphs">CD274</text>
<text x="100.9" y="1537.56" font-size="15.0" text-anchor="end" textLength="50.0" lengthAdjust="spacingAndGlyphs">CD279</text>
<text x="100.9" y="1559.28" font-size="15.0" text-anchor="end" textLength="58.9" lengthAdjust="spacingAndGlyphs">CD300a</text>
<text x="100.9" y="1581.01" font-size="15.0" text-anchor="end" textLength="50.0" lengthAdjust="spacingAndGlyphs">CD309</text>
<text x="99.4" y="1602.73" font-size="15.0" text-anchor="end" textLength="48.6" lengthAdjust="spacingAndGlyphs">CD321</text>
<text x="100.9" y="1624.45" font-size="15.0" text-anchor="end" textLength="50.0" lengthAdjust="spacingAndGlyphs">CD325</text>
<text x="100.9" y="1646.18" font-size="15.0" text-anchor="end" textLength="50.0" lengthAdjust="spacingAndGlyphs">CD332</text>
<text x="99.4" y="1667.90" font-size="15.0" text-anchor="end" textLength="48.6" lengthAdjust="spacingAndGlyphs">CD371</text>
<text x="100.9" y="1689.63" font-size="15.0" text-anchor="end" textLength="80.8" lengthAdjust="spacingAndGlyphs">MET/HGFR</text>
<text x="100.9" y="1711.35" font-size="15.0" text-anchor="end" textLength="43.9" lengthAdjust="spacingAndGlyphs">EPOR</text>
<text x="100.9" y="1733.07" font-size="15.0" text-anchor="end" textLength="56.8" lengthAdjust="spacingAndGlyphs">HLA-DR</text>
<text x="100.9" y="1754.80" font-size="15.0" text-anchor="end" textLength="55.7" lengthAdjust="spacingAndGlyphs">IL-1RAP</text>
<text x="99.4" y="1776.52" font-size="15.0" text-anchor="end" textLength="53.9" lengthAdjust="spacingAndGlyphs">NPDC1</text>
<text x="100.9" y="1798.25" font-size="15.0" text-anchor="end" textLength="76.2" lengthAdjust="spacingAndGlyphs">OSMRbeta</text>
<text x="100.9" y="1819.97" font-size="15.0" text-anchor="end" textLength="56.7" lengthAdjust="spacingAndGlyphs">ROBO4</text>
<rect x="106.75" y="1843.65" width="365.8" height="19.6" fill="url(#cb)" stroke="#000" stroke-width="1.9"/>
<text class="b" x="102.2" y="1891.4" font-size="22.4" textLength="12.5" lengthAdjust="spacingAndGlyphs">1</text>
<text class="b" x="160.7" y="1891.4" font-size="22.4" textLength="12.5" lengthAdjust="spacingAndGlyphs">2</text>
<text class="b" x="234.3" y="1891.4" font-size="22.4" textLength="12.5" lengthAdjust="spacingAndGlyphs">5</text>
<text class="b" x="283.0" y="1891.4" font-size="22.4" textLength="23.7" lengthAdjust="spacingAndGlyphs">10</text>
<text class="b" x="347.5" y="1891.4" font-size="22.4" textLength="24.9" lengthAdjust="spacingAndGlyphs">20</text>
<text class="b" x="414.0" y="1891.4" font-size="22.4" textLength="24.9" lengthAdjust="spacingAndGlyphs">50</text>
<text class="b" x="462.5" y="1891.4" font-size="22.4" textLength="34.4" lengthAdjust="spacingAndGlyphs">100</text>
<rect x="102.30" y="1887.2" width="4.90" height="5.2" fill="#fff"/>
<rect x="110.85" y="1887.2" width="4.35" height="5.2" fill="#fff"/>
<rect x="283.30" y="1887.2" width="4.30" height="5.2" fill="#fff"/>
<rect x="290.95" y="1887.2" width="4.05" height="5.2" fill="#fff"/>
<rect x="462.80" y="1887.2" width="4.40" height="5.2" fill="#fff"/>
<rect x="470.55" y="1887.2" width="3.65" height="5.2" fill="#fff"/>
<text class="b" x="173.5" y="1922.5" font-size="22.2" textLength="59.8" lengthAdjust="spacingAndGlyphs">Mean</text>
<text class="b" x="241.0" y="1922.5" font-size="22.2" textLength="91.8" lengthAdjust="spacingAndGlyphs">staining</text>
<text class="b" x="339.5" y="1922.5" font-size="22.2" textLength="59.3" lengthAdjust="spacingAndGlyphs">index</text>
<text class="b" x="195.2" y="1950" font-size="22.2" textLength="56.8" lengthAdjust="spacingAndGlyphs">(flow</text>
<text class="b" x="258.5" y="1950" font-size="22.2" textLength="116.8" lengthAdjust="spacingAndGlyphs">cytometry)</text>
</svg></body></html>
